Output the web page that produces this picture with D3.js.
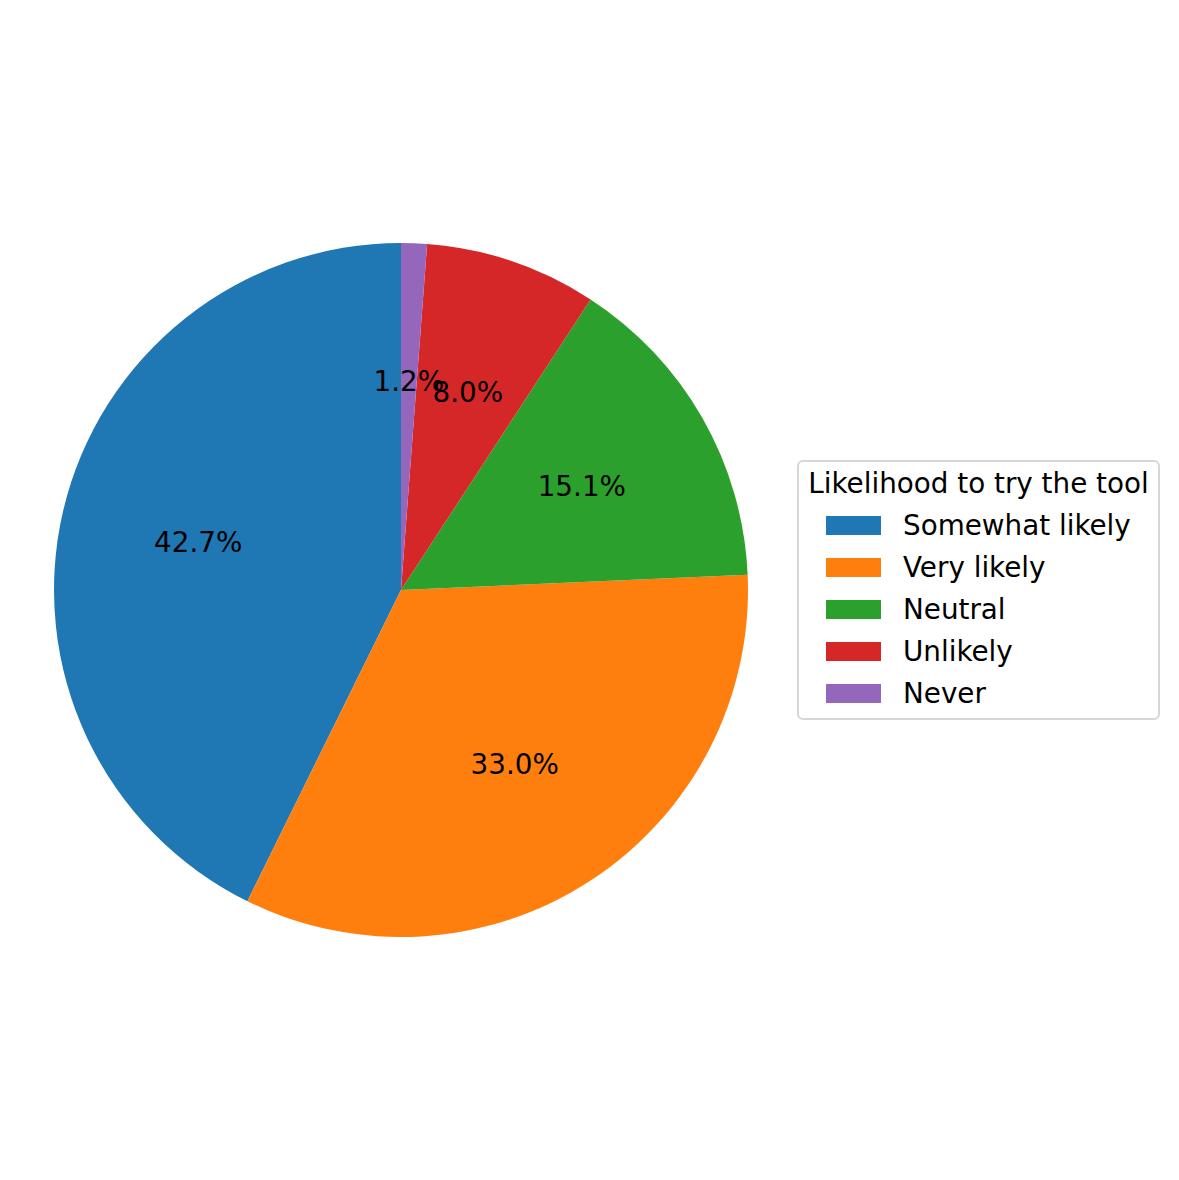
<!DOCTYPE html>
<html>
<head>
<meta charset="utf-8">
<script src="https://cdn.jsdelivr.net/npm/d3@7"></script>
<style>
  body { margin: 0; background: #fff; }
  text { font-family: "DejaVu Sans", sans-serif; }
</style>
</head>
<body>
<div id="vis"></div>
<script>
let categories = ["Somewhat likely", "Very likely", "Neutral", "Unlikely", "Never"];
let shares = [42.7, 33.0, 15.1, 8.0, 1.2];
let colors = ["#1f77b4", "#ff7f0e", "#2ca02c", "#d62728", "#9467bd"];
let legendTitle = "Likelihood to try the tool";

let width = 1179, height = 1180;
let cx = 401, cy = 590, radius = 347;
let fontSize = 27.8;

let svg = d3.select("#vis")
        .append("svg")
        .attr("width", width)
        .attr("height", height);

// matplotlib style: start at 90 degrees, going counterclockwise
let pie = d3.pie()
        .sort(null)
        .startAngle(0)
        .endAngle(-2 * Math.PI);

let arcs = pie(shares);

let arc = d3.arc()
        .innerRadius(0)
        .outerRadius(radius);

let labelArc = d3.arc()
        .innerRadius(radius * 0.6)
        .outerRadius(radius * 0.6);

let pieGroup = svg.append("g")
        .attr("transform", "translate(" + cx + "," + cy + ")");

pieGroup.selectAll("path")
  .data(arcs)
    .join("path")
    .attr("d", arc)
    .attr("fill", (d, i) => colors[i]);

let total = d3.sum(shares);
pieGroup.selectAll("text")
  .data(arcs)
    .join("text")
    .attr("x", d => labelArc.centroid(d)[0])
    .attr("y", d => labelArc.centroid(d)[1])
    .attr("text-anchor", "middle")
    .attr("dominant-baseline", "central")
    .attr("font-size", fontSize)
    .attr("fill", "#000")
    .text(d => (d.data / total * 100).toFixed(1) + "%");

// legend
let legend = svg.append("g")
        .attr("transform", "translate(798,461)");

legend.append("rect")
  .attr("width", 361)
  .attr("height", 258)
  .attr("rx", 5)
  .attr("fill", "#fff")
  .attr("stroke", "#d6d6d6")
  .attr("stroke-width", 2);

legend.append("text")
  .attr("x", 180.5)
  .attr("y", 32)
  .attr("text-anchor", "middle")
  .attr("font-size", fontSize)
  .text(legendTitle);

let yItem = d3.scaleBand()
        .domain(categories)
        .range([43, 43 + 42 * categories.length]);

let items = legend.selectAll("g.item")
  .data(categories)
    .join("g")
    .attr("class", "item")
    .attr("transform", d => "translate(0," + yItem(d) + ")");

items.append("rect")
  .attr("x", 28)
  .attr("y", 12)
  .attr("width", 55)
  .attr("height", 19)
  .attr("fill", (d, i) => colors[i]);

items.append("text")
  .attr("x", 105)
  .attr("y", 21.5)
  .attr("dominant-baseline", "central")
  .attr("font-size", fontSize)
  .text(d => d);
</script>
</body>
</html>
